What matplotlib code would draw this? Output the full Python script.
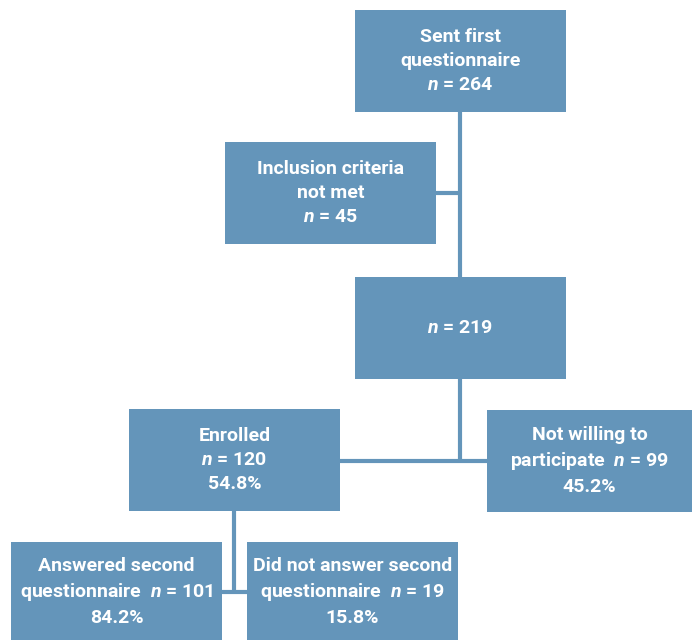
import matplotlib
matplotlib.use("Agg")
import matplotlib.pyplot as plt
from matplotlib.patches import Rectangle
from matplotlib import font_manager

names = {f.name for f in font_manager.fontManager.ttflist}
fam = "Liberation Sans Narrow" if "Liberation Sans Narrow" in names else "Roboto"
plt.rcParams['mathtext.fontset'] = 'custom'
plt.rcParams['mathtext.it'] = f'{fam}:italic:bold'
plt.rcParams['mathtext.rm'] = f'{fam}:bold'

# Data
box_titles = ["Sent first\nquestionnaire", "Inclusion criteria\nnot met", "", "Enrolled",
              "Not willing to\nparticipate", "Answered second\nquestionnaire",
              "Did not answer second\nquestionnaire"]
box_counts = [264, 45, 219, 120, 99, 101, 19]
box_pcts = ["", "", "", "54.8%", "45.2%", "84.2%", "15.8%"]
inline_n = [False, False, False, False, True, True, True]

# Layout (pixels)
boxes = [(355, 10, 211, 102), (225, 142, 211, 102), (355, 277, 211, 102),
         (129, 409, 211, 102), (487, 410, 205, 102), (11, 542, 211, 100),
         (247, 542, 211, 100)]
col = "#6495BA"

fig = plt.figure(figsize=(6.92, 6.4), dpi=100)
ax = fig.add_axes([0, 0, 1, 1])
ax.set_xlim(0, 692)
ax.set_ylim(640, 0)
ax.axis("off")

lw = 3
segs = [((460, 112), (460, 277)), ((436, 193), (460, 193)),
        ((460, 379), (460, 461)), ((340, 461), (487, 461)),
        ((234, 511), (234, 592)), ((222, 592), (247, 592))]
for (x0, y0), (x1, y1) in segs:
    ax.plot([x0, x1], [y0, y1], color=col, lw=lw, solid_capstyle="butt", zorder=1)

for (x, y, w, h), t, n, p, inl in zip(boxes, box_titles, box_counts, box_pcts, inline_n):
    ax.add_patch(Rectangle((x, y), w, h, facecolor=col, edgecolor="none", zorder=2))
    nstr = f"$n$ = {n}"
    if inl:
        lines = t.split("\n")
        lines[-1] = lines[-1] + "  " + nstr
        txt = "\n".join(lines)
    else:
        txt = (t + "\n" + nstr) if t else nstr
    if p:
        txt += "\n" + p
    ax.text(x + w / 2, y + h / 2, txt, ha="center", va="center", color="white",
            fontsize=14, fontweight="bold", family=fam, linespacing=1.4, zorder=3)

fig.savefig("out.png", dpi=100)
